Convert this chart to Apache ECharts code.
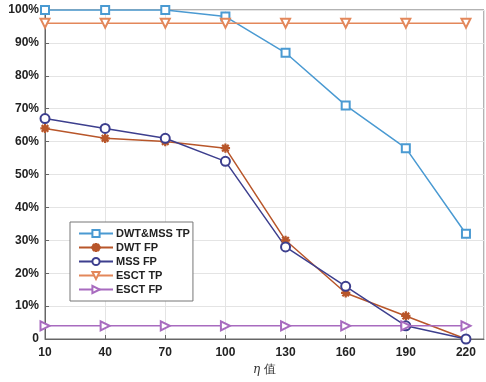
<!DOCTYPE html>
<html>
<head>
<meta charset="utf-8">
<script src="https://cdn.jsdelivr.net/npm/echarts@6/dist/echarts.min.js"></script>
<style>
  html, body { margin: 0; padding: 0; background: #fff; }
  #chart { width: 486px; height: 382px; }
</style>
</head>
<body>
<div id="chart"></div>
<script>
// eta values on the x axis
var etaValues = [10, 40, 70, 100, 130, 160, 190, 220]
// percentages
var dwtMssTP = [100, 100, 100, 98, 87, 71, 58, 32]
var dwtFP = [64, 61, 60, 58, 30, 14, 7, 0]
var mssFP = [67, 64, 61, 54, 28, 16, 4, 0]
var esctTP = [96, 96, 96, 96, 96, 96, 96, 96]
var esctFP = [4, 4, 4, 4, 4, 4, 4, 4]

var asterisk = 'path://M-0.6,-5L0.6,-5L0.6,5L-0.6,5Z M-5,-0.6L5,-0.6L5,0.6L-5,0.6Z M-3.96,-3.11L-3.11,-3.96L3.96,3.11L3.11,3.96Z M3.11,-3.96L3.96,-3.11L-3.11,3.96L-3.96,3.11Z'

function pairs(vals) {
  return etaValues.map(function (x, i) { return [x, vals[i]] })
}

function makeSeries(name, vals, color, symbol, rotate, size) {
  return {
    name: name,
    type: 'line',
    data: pairs(vals),
    symbol: symbol,
    symbolSize: size || 8,
    symbolRotate: rotate || 0,
    lineStyle: { color: color, width: 1.5 },
    itemStyle: { color: color, borderColor: color, borderWidth: 1.3 },
    animation: false
  }
}

var chart = echarts.init(document.getElementById('chart'))
chart.setOption({
  backgroundColor: '#fff',
  textStyle: { fontFamily: 'Liberation Sans' },
  grid: {
    left: 45, right: 2, top: 10, bottom: 43,
    show: true, borderColor: '#666', borderWidth: 1
  },
  legend: {
    orient: 'vertical',
    left: 70, top: 222,
    padding: [6, 3, 6, 8],
    itemGap: 3,
    itemWidth: 34,
    itemHeight: 9,
    borderColor: '#777',
    borderWidth: 1,
    backgroundColor: '#fff',
    textStyle: { fontSize: 11, fontWeight: 'bold', color: '#222', padding: [0, 0, 0, -2] },
    data: ['DWT&MSS TP', 'DWT FP', 'MSS FP', 'ESCT TP', 'ESCT FP']
  },
  xAxis: {
    type: 'value',
    min: 10, max: 229, interval: 30,
    name: '{i|η} 值',
    nameLocation: 'middle',
    nameGap: 20,
    nameTextStyle: {
      fontFamily: 'DejaVu Serif', fontSize: 12, color: '#333',
      rich: { i: { fontStyle: 'italic', fontFamily: 'DejaVu Serif', fontSize: 12, color: '#333' } }
    },
    axisLine: { lineStyle: { color: '#666' } },
    axisTick: { inside: true, length: 4, lineStyle: { color: '#666' } },
    axisLabel: { fontSize: 12, fontWeight: 'bold', color: '#222', margin: 8, showMaxLabel: false },
    splitLine: { show: true, lineStyle: { color: '#e4e4e4' } }
  },
  yAxis: {
    type: 'value',
    min: 0, max: 100, interval: 10,
    axisLine: { show: true, lineStyle: { color: '#666' } },
    axisTick: { show: true, inside: true, length: 4, lineStyle: { color: '#666' } },
    axisLabel: {
      fontSize: 12, fontWeight: 'bold', color: '#222', margin: 6,
      formatter: function (v) { return v === 0 ? '0' : v + '%' }
    },
    splitLine: { show: true, lineStyle: { color: '#e4e4e4' } }
  },
  series: [
    makeSeries('DWT&MSS TP', dwtMssTP, '#4a9ad2', 'emptyRect', 0, 8),
    makeSeries('DWT FP', dwtFP, '#b8562a', asterisk, 0, 8),
    makeSeries('MSS FP', mssFP, '#3d3f8e', 'emptyCircle', 0, 9),
    makeSeries('ESCT TP', esctTP, '#e3875a', 'emptyTriangle', 180, 9),
    makeSeries('ESCT FP', esctFP, '#a86bbf', 'emptyTriangle', -90, 9)
  ]
})
</script>
</body>
</html>
